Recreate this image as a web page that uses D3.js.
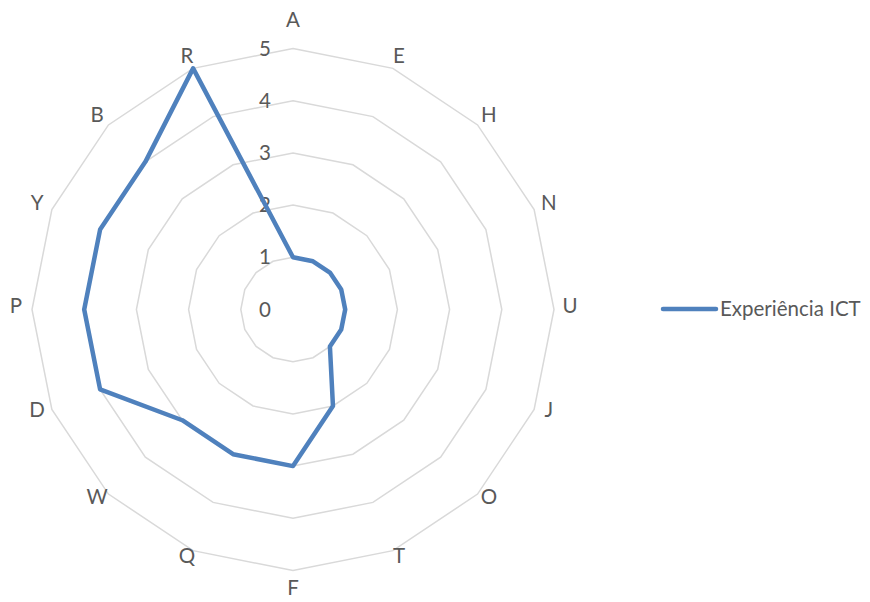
<!DOCTYPE html>
<html>
<head>
<meta charset="utf-8">
<script src="https://cdn.jsdelivr.net/npm/d3@7"></script>
<style>
  body { margin: 0; background: #fff; }
  text { font-family: Lato, "Open Sans", sans-serif; fill: #595959; }
</style>
</head>
<body>
<div id="chart"></div>
<script>
const categories = ['A', 'E', 'H', 'N', 'U', 'J', 'O', 'T', 'F', 'Q', 'W', 'D', 'P', 'Y', 'B', 'R']
const values = [1, 1, 1, 1, 1, 1, 1, 2, 3, 3, 3, 4, 4, 4, 4, 5]
const ticks = [0, 1, 2, 3, 4, 5]
const seriesName = 'Experiência ICT'

let w = 870,
    h = 602,
    cx = 293,
    cy = 309.5,
    radius = 261,
    fontSize = 20.5

const svg = d3.select('#chart')
    .append('svg')
    .attr('width', w)
    .attr('height', h)

let rScale = d3.scaleLinear().domain([0, 5]).range([0, radius])
let angle = d3.scaleLinear().domain([0, categories.length]).range([0, 2 * Math.PI])

let pt = (i, r) => [cx + r * Math.sin(angle(i)), cy - r * Math.cos(angle(i))]

// grid rings
svg.append('g')
    .selectAll('path')
    .data(ticks.filter(t => t > 0))
    .enter()
    .append('path')
    .attr('d', t => 'M' + categories.map((c, i) => pt(i, rScale(t))).join('L') + 'Z')
    .attr('fill', 'none')
    .attr('stroke', '#d9d9d9')
    .attr('stroke-width', 1.5)

// tick labels
svg.append('g')
    .selectAll('text')
    .data(ticks)
    .enter()
    .append('text')
    .text(d => d)
    .attr('x', cx - 22)
    .attr('y', d => cy - rScale(d))
    .attr('dy', '0.35em')
    .attr('text-anchor', 'end')
    .attr('font-size', fontSize)

// category labels (top/bottom ones sit a bit further out)
svg.append('g')
    .selectAll('text')
    .data(categories)
    .enter()
    .append('text')
    .text(d => d)
    .attr('x', (d, i) => cx + 277 * Math.sin(angle(i)))
    .attr('y', (d, i) => {
        let ry = 270.5 + (i === 0 ? 16 : i === 8 ? 11 : 0)
        return cy - 3.5 - ry * Math.cos(angle(i))
    })
    .attr('dy', '0.35em')
    .attr('text-anchor', 'middle')
    .attr('font-size', fontSize)

// data line
let line = d3.lineRadial()
    .angle((d, i) => angle(i))
    .radius(d => rScale(d))
    .curve(d3.curveLinearClosed)

svg.append('path')
    .attr('d', line(values))
    .attr('transform', `translate(${cx},${cy})`)
    .attr('fill', 'none')
    .attr('stroke', '#4f81bd')
    .attr('stroke-width', 4.5)
    .attr('stroke-linejoin', 'round')

// legend
let legend = svg.append('g').attr('transform', 'translate(663,309)')
legend.append('line')
    .attr('x1', 0)
    .attr('x2', 53)
    .attr('stroke', '#4f81bd')
    .attr('stroke-width', 4.5)
    .attr('stroke-linecap', 'round')
legend.append('text')
    .text(seriesName)
    .attr('x', 57)
    .attr('dy', '0.35em')
    .attr('font-size', fontSize)
</script>
</body>
</html>
